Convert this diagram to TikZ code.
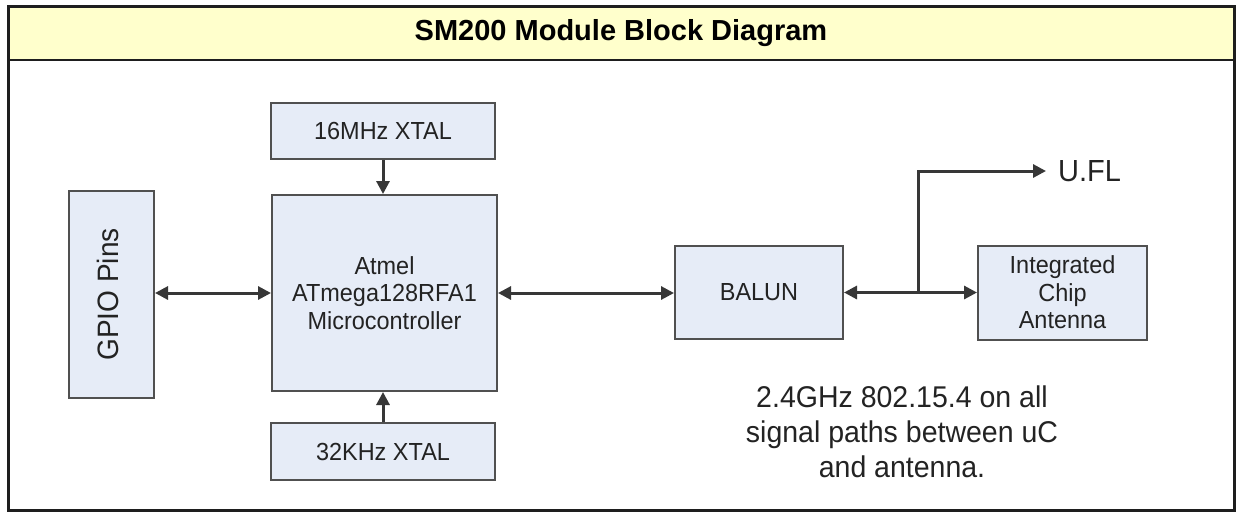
\documentclass[tikz,border=0pt]{standalone}
\usepackage{fontspec}
\setmainfont{Liberation Sans}
\newfontfamily\condfont[FakeStretch=0.95]{Liberation Sans}
\usetikzlibrary{arrows.meta}
\definecolor{boxfill}{RGB}{230,236,247}
\definecolor{boxline}{RGB}{80,80,80}
\definecolor{wire}{RGB}{55,55,55}
\definecolor{titlefill}{RGB}{255,255,204}
\definecolor{txt}{RGB}{35,35,35}
\definecolor{frame}{RGB}{30,30,30}
\begin{document}
\begin{tikzpicture}[x=1pt,y=-1pt,
  blk/.style={draw=boxline, line width=2pt, fill=boxfill, inner sep=0pt, align=center,
    font=\condfont\fontsize{24.7}{27.5}\selectfont, text=txt},
  tip/.tip={Triangle[length=13pt,width=13pt]},
  conn/.style={draw=wire, line width=3pt, -tip},
  bconn/.style={draw=wire, line width=3pt, tip-tip}]
\useasboundingbox (0,0) rectangle (1238,512);
% frame and title band
\path[fill=white] (0,0) rectangle (1238,512);
\draw[draw=frame, line width=2.5pt, fill=titlefill] (8,6) rectangle (1234,60);
\draw[draw=frame, line width=3pt] (8,6) rectangle (1234,510);
\node[font=\fontsize{29}{34}\selectfont\bfseries, text=black] (title) at (621,33) {SM200 Module Block Diagram};
% blocks
\node[blk, minimum width=224pt, minimum height=56pt] (x16) at (383,131) {16MHz XTAL};
\node[blk, minimum width=225pt, minimum height=196pt] (mcu) at (384.5,293) {Atmel\\ATmega128RFA1\\Microcontroller};
\node[blk, minimum width=224pt, minimum height=57pt] (x32) at (383,451.5) {32KHz XTAL};
\node[blk, minimum width=85pt, minimum height=207pt] (gpio) at (111.5,294.5) {};
\node[font=\condfont\fontsize{29.5}{32}\selectfont, text=txt, rotate=90] (gpiolbl) at (108,294.5) {GPIO Pins};
\node[blk, minimum width=168pt, minimum height=93pt] (balun) at (759,292.5) {BALUN};
\node[blk, minimum width=169pt, minimum height=94pt] (ant) at (1062.5,292.5) {Integrated\\Chip\\Antenna};
\node[anchor=west, inner sep=0pt, font=\condfont\fontsize{30.5}{34}\selectfont, text=txt] (ufl) at (1058,171) {U.FL};
\node[align=center, font=\condfont\fontsize{30}{35}\selectfont, text=txt] (note) at (902,432)
  {2.4GHz 802.15.4 on all\\signal paths between uC\\and antenna.};
% connectors
\coordinate (j) at (918,292.5);
\coordinate (uflend) at (1046,171);
\draw[bconn] (gpio.east |- mcu.west) -- (mcu.west);
\draw[conn] (x16.south) -- (x16.south |- mcu.north);
\draw[conn] (x32.north) -- (x32.north |- mcu.south);
\draw[bconn] (mcu.east) -- (mcu.east -| balun.west);
\draw[conn] (j) -- (balun.east);
\draw[conn] (j) -- (ant.west);
\draw[conn] (j) |- (uflend);
\end{tikzpicture}
\end{document}
